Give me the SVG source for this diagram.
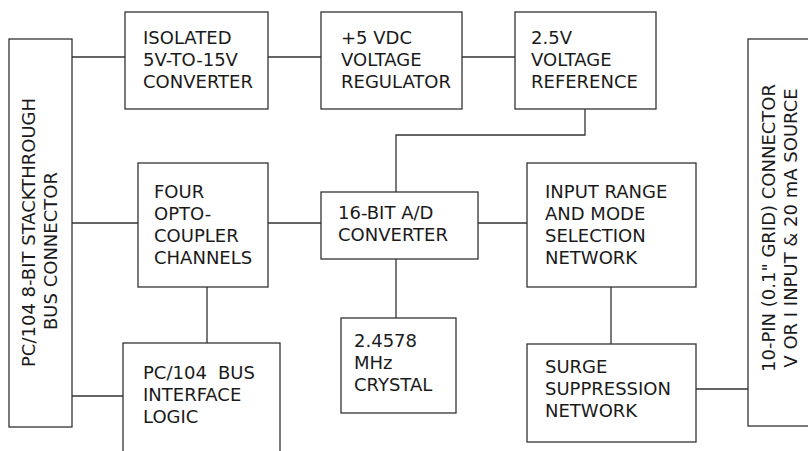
<svg xmlns="http://www.w3.org/2000/svg" width="808" height="451" viewBox="0 0 808 451">
<style>
.box{fill:#fff;stroke:#333;stroke-width:1.3}
.wire{fill:none;stroke:#333;stroke-width:1.3}
text{font-family:"DejaVu Sans","Liberation Sans",sans-serif;font-size:18px;fill:#1a1a1a}
</style>
<rect width="808" height="451" fill="#fff"/>
<g id="connectors">
<path class="wire" d="M72,57H125 M268,57H321 M462,57H515 M585,109V135H396V192 M72,223H138 M268,223H321 M478,223H527 M207,287V343 M72,396H123 M396,259V318 M611,287V344 M696,389H748"/>
</g>
<g id="bus-connector">
<rect class="box" x="9" y="39" width="63" height="388"/>
<text transform="translate(35,367) rotate(-90)">PC/104 8-BIT STACKTHROUGH</text>
<text transform="translate(57,330) rotate(-90)">BUS CONNECTOR</text>
</g>
<g id="isolated-converter">
<rect class="box" x="125" y="12" width="143" height="97"/>
<text x="143" y="44">ISOLATED</text>
<text x="143" y="66">5V-TO-15V</text>
<text x="143" y="88">CONVERTER</text>
</g>
<g id="voltage-regulator">
<rect class="box" x="321" y="12" width="141" height="97"/>
<text x="341" y="44">+5 VDC</text>
<text x="341" y="66">VOLTAGE</text>
<text x="341" y="88">REGULATOR</text>
</g>
<g id="voltage-reference">
<rect class="box" x="515" y="12" width="141" height="97"/>
<text x="531" y="44">2.5V</text>
<text x="531" y="66">VOLTAGE</text>
<text x="531" y="88">REFERENCE</text>
</g>
<g id="optocoupler">
<rect class="box" x="138" y="163" width="130" height="124"/>
<text x="154" y="198">FOUR</text>
<text x="154" y="220">OPTO-</text>
<text x="154" y="242">COUPLER</text>
<text x="154" y="264">CHANNELS</text>
</g>
<g id="bus-interface">
<rect class="box" x="123" y="343" width="157" height="120"/>
<text x="143" y="379">PC/104 <tspan x="218">BUS</tspan></text>
<text x="143" y="401">INTERFACE</text>
<text x="143" y="423">LOGIC</text>
</g>
<g id="adc">
<rect class="box" x="321" y="192" width="157" height="67"/>
<text x="338" y="219">16-BIT A/D</text>
<text x="338" y="241">CONVERTER</text>
</g>
<g id="crystal">
<rect class="box" x="341" y="318" width="115" height="95"/>
<text x="354" y="347">2.4578</text>
<text x="354" y="369">MHz</text>
<text x="354" y="391">CRYSTAL</text>
</g>
<g id="input-range">
<rect class="box" x="527" y="163" width="169" height="124"/>
<text x="545" y="198">INPUT RANGE</text>
<text x="545" y="220">AND MODE</text>
<text x="545" y="242">SELECTION</text>
<text x="545" y="264">NETWORK</text>
</g>
<g id="surge">
<rect class="box" x="527" y="344" width="169" height="98"/>
<text x="545" y="373">SURGE</text>
<text x="545" y="395">SUPPRESSION</text>
<text x="545" y="417">NETWORK</text>
</g>
<g id="io-connector">
<rect class="box" x="748" y="39" width="80" height="387"/>
<text text-anchor="middle" transform="translate(775,228) rotate(-90)">10-PIN (0.1" GRID) CONNECTOR</text>
<text text-anchor="middle" transform="translate(797,228) rotate(-90)">V OR I INPUT &amp; 20 mA SOURCE</text>
</g>
</svg>
